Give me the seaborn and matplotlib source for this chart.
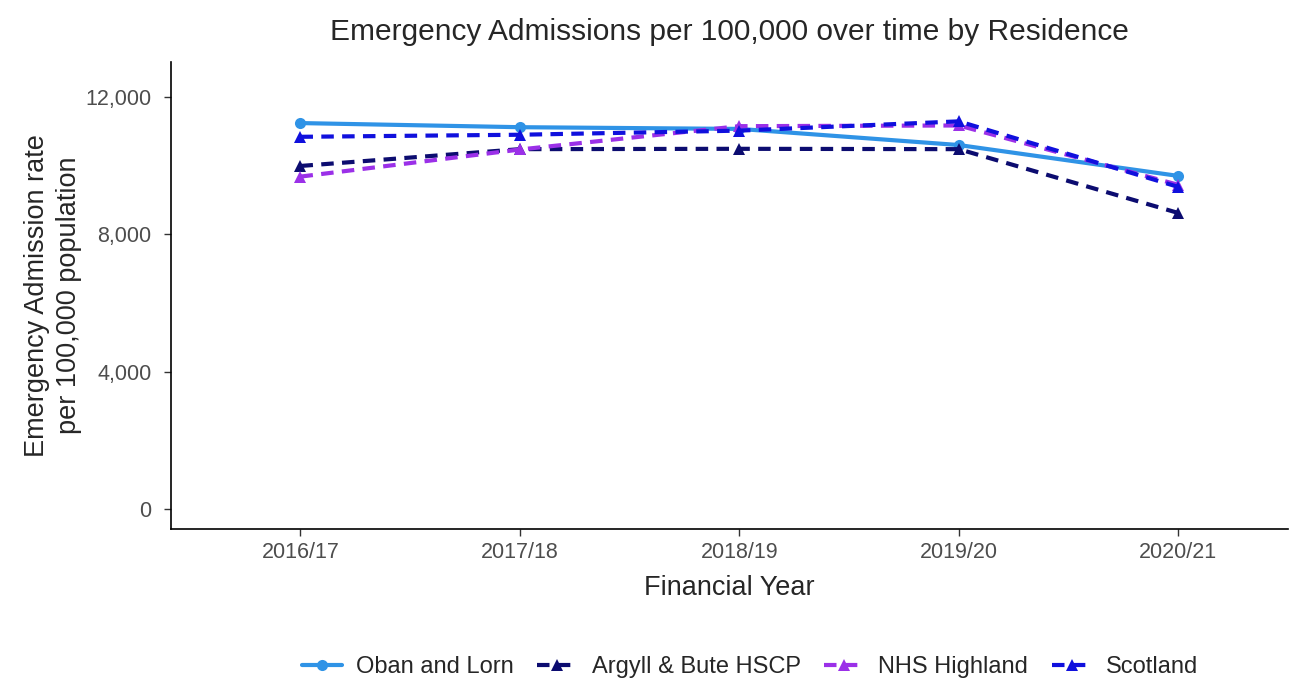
import pandas as pd
import matplotlib.pyplot as plt
import matplotlib.ticker as mticker
import seaborn as sns

# ========== Data ==========
years = ["2016/17", "2017/18", "2018/19", "2019/20", "2020/21"]
areas = ["Oban and Lorn", "Argyll & Bute HSCP", "NHS Highland", "Scotland"]
oban = [11240, 11120, 11070, 10600, 9700]
argyll = [9990, 10480, 10490, 10480, 8620]
highland = [9680, 10470, 11150, 11170, 9440]
scotland = [10840, 10900, 11020, 11290, 9380]

colours = ["#2f93e6", "#0c0c70", "#9b30e8", "#1010dd"]

rows = []
for area, vals in zip(areas, [oban, argyll, highland, scotland]):
    for yr, v in zip(years, vals):
        rows.append({"year": yr, "area": area, "rate": v})
df = pd.DataFrame(rows)

sns.set_style("white")
plt.rcParams['font.family'] = ['Liberation Sans', 'DejaVu Sans']

fig = plt.figure(figsize=(13, 6.82), dpi=100)
ax = fig.add_axes([171 / 1300, 1 - 529 / 682, 1117 / 1300, 467 / 682])

dash = (3, 2)
sns.lineplot(
    data=df, x="year", y="rate", hue="area", style="area",
    hue_order=areas, style_order=areas, palette=colours,
    markers={"Oban and Lorn": "o", "Argyll & Bute HSCP": "^",
             "NHS Highland": "^", "Scotland": "^"},
    dashes={"Oban and Lorn": "", "Argyll & Bute HSCP": dash,
            "NHS Highland": dash, "Scotland": dash},
    linewidth=3, markersize=8, markeredgewidth=0, ax=ax,
)

ax.set_xlim(-0.59, 4.5)
ax.set_ylim(-590, 13020)
ax.set_yticks([0, 4000, 8000, 12000])
ax.yaxis.set_major_formatter(mticker.StrMethodFormatter("{x:,.0f}"))
ax.tick_params(axis="both", labelsize=15.5, colors="#333333", labelcolor="#4d4d4d",
               length=5, width=1, direction="out", left=True, bottom=True, pad=4)
ax.tick_params(axis="y", pad=9)
for side in ["top", "right"]:
    ax.spines[side].set_visible(False)
for side in ["left", "bottom"]:
    ax.spines[side].set_color("black")
    ax.spines[side].set_linewidth(1.2)

ax.set_xlabel("Financial Year", fontsize=19.5, labelpad=9)
ax.set_ylabel("Emergency Admission rate\nper 100,000 population", fontsize=19.5,
              linespacing=1.3)
ax.yaxis.set_label_coords(-0.08, 0.5)
ax.set_title("Emergency Admissions per 100,000 over time by Residence",
             fontsize=21.5, pad=16)

handles, labels = ax.get_legend_handles_labels()
ax.legend(handles, labels, loc="center", bbox_to_anchor=(750 / 1300, 1 - 667 / 682),
          bbox_transform=fig.transFigure, ncol=4, frameon=False, fontsize=17,
          handlelength=1.7, columnspacing=1.0, handletextpad=0.6)

fig.savefig("out.png", dpi=100)
